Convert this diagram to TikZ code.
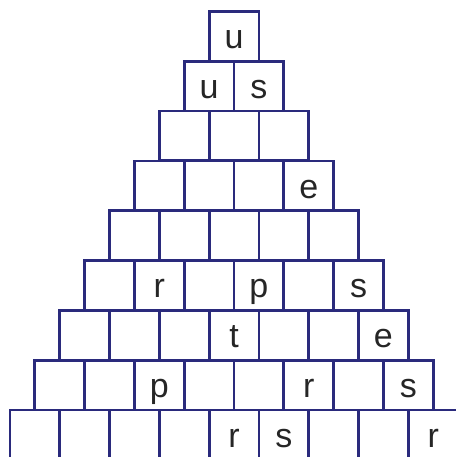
\documentclass[tikz,border=0pt]{standalone}
\usepackage{fontspec}
\setmainfont{Liberation Sans}
\definecolor{navy}{RGB}{42,42,124}
\begin{document}
\begin{tikzpicture}[x=1pt,y=-1pt,
  cell/.style={draw=navy,line width=2.8pt,minimum width=49.8pt,minimum height=49.8pt,inner sep=0pt,outer sep=0pt},
  letter/.style={anchor=base,inner sep=0pt,font=\fontsize{34}{40}\selectfont,text=black!85}]
\useasboundingbox (0,0) rectangle (455,457);
\foreach \r in {1,...,9}{
  \foreach \c in {1,...,\r}{
    \node[cell] (b-\r-\c) at ({234-24.9*(\r-1)+49.8*(\c-1)},{36.4+49.8*(\r-1)}) {};
  }
}
\foreach \r/\c/\t in {1/1/u,2/1/u,2/2/s,4/4/e,6/2/r,6/4/p,6/6/s,7/4/t,7/7/e,8/3/p,8/6/r,8/8/s,9/5/r,9/6/s,9/9/r}{
  \node[letter] (t-\r-\c) at ([yshift=12.5pt]b-\r-\c.south) {\t};
}
\end{tikzpicture}
\end{document}
